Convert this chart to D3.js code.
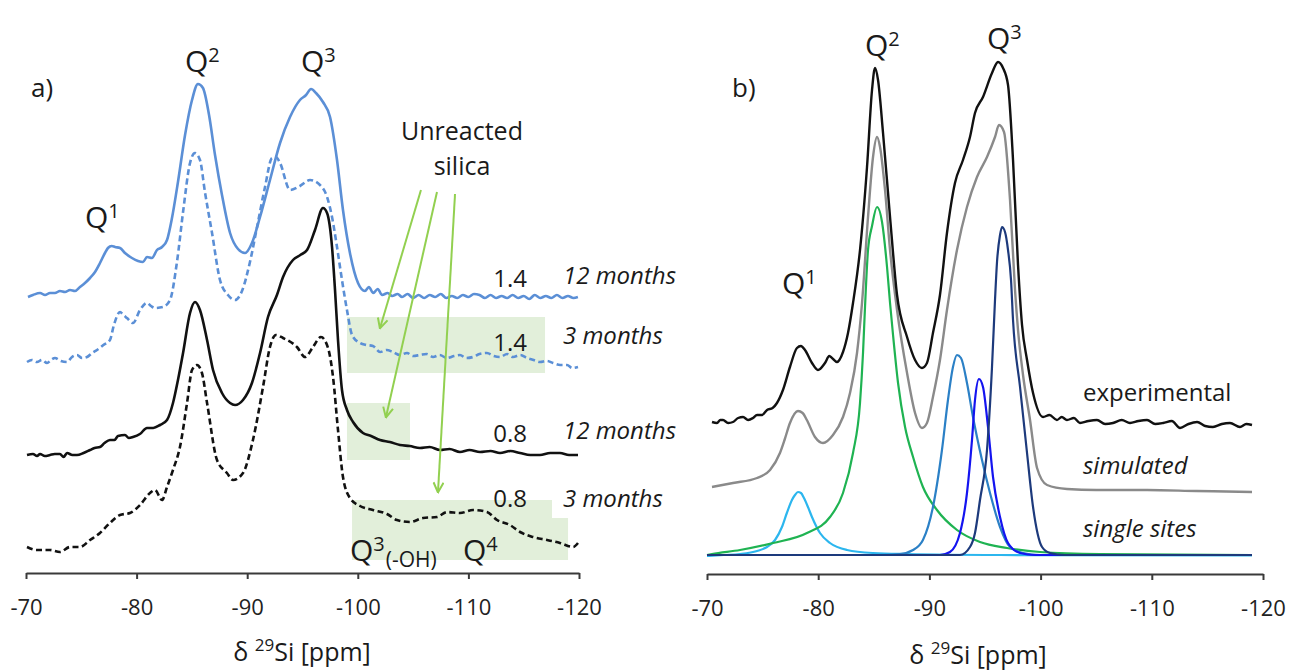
<!DOCTYPE html>
<html><head><meta charset="utf-8">
<script src="https://cdn.jsdelivr.net/npm/d3@7"></script>
<style>
html,body{margin:0;padding:0;background:#fff;}
svg{display:block;font-family:"Open Sans","Noto Sans",sans-serif;}
</style></head><body>
<svg id="chart" width="1293" height="672"></svg>
<script>
// ---------- DATA (ppm, intensity a.u.) ----------
const tickValues = [-70, -80, -90, -100, -110, -120];

// Panel a) ratio 1.4, 12 months (blue solid)
const a_14_12m = [[-70.18,55.2],[-70.63,55.6],[-71.27,56.0],[-71.72,55.6],[-72.17,56.0],[-72.62,56.0],[-73.07,56.4],[-73.53,56.2],[-73.98,56.6],[-74.43,56.4],[-74.88,57.2],[-75.33,58.0],[-75.79,59.0],[-76.24,60.2],[-76.69,62.0],[-77.14,64.0],[-77.41,65.0],[-77.75,65.4],[-78.05,65.2],[-78.50,65.0],[-78.95,64.0],[-79.58,63.0],[-80.13,62.4],[-80.58,62.2],[-80.94,63.2],[-81.39,63.0],[-81.84,64.6],[-82.30,65.2],[-82.75,66.6],[-83.20,71.0],[-83.74,78.2],[-84.38,87.6],[-85.01,94.6],[-85.55,97.8],[-86.00,97.0],[-86.55,91.6],[-87.09,83.6],[-87.72,75.6],[-88.45,68.0],[-89.17,64.8],[-89.80,64.0],[-90.43,66.0],[-91.16,71.2],[-92.06,78.6],[-92.97,86.0],[-93.87,91.2],[-94.77,94.6],[-95.32,95.6],[-95.77,96.8],[-96.22,96.0],[-96.85,94.2],[-97.49,91.2],[-98.12,82.6],[-98.66,72.6],[-99.29,64.0],[-100.02,58.0],[-100.65,56.4],[-101.0,57.2],[-101.4,56.0],[-101.8,56.8],[-102.2,55.6],[-102.7,56.0],[-103.1,55.4],[-103.6,55.8],[-104.0,55.2],[-104.5,55.8],[-105.0,55.0],[-105.5,55.6],[-106.0,55.0],[-106.5,55.6],[-107.0,55.2],[-107.5,55.8],[-108.0,55.0],[-108.5,55.4],[-109.0,55.0],[-109.5,55.6],[-110.0,55.2],[-110.5,55.8],[-111.0,55.6],[-111.5,55.0],[-112.0,55.6],[-112.5,55.0],[-113.0,55.4],[-113.5,55.0],[-114.0,55.6],[-114.5,55.0],[-115.0,55.4],[-115.5,54.8],[-116.0,55.6],[-116.5,55.0],[-117.0,55.4],[-117.5,55.0],[-118.0,55.6],[-118.5,55.0],[-119.0,55.4],[-119.5,55.0],[-119.9,55.2]];

// Panel a) ratio 1.4, 3 months (blue dashed)
const a_14_3m = [[-70.09,42.2],[-70.54,42.6],[-70.99,42.2],[-71.45,42.6],[-71.90,42.0],[-72.26,42.6],[-72.62,43.0],[-73.16,42.4],[-73.71,42.2],[-74.16,43.2],[-74.61,43.6],[-75.06,43.0],[-75.52,43.2],[-75.97,44.0],[-76.42,44.6],[-77.0,45.6],[-77.59,46.6],[-77.95,49.6],[-78.50,52.2],[-78.80,51.6],[-79.13,51.0],[-79.67,50.0],[-80.31,52.6],[-80.94,54.0],[-81.30,53.4],[-81.66,53.0],[-82.39,53.2],[-83.02,54.6],[-83.65,62.2],[-84.20,72.2],[-84.83,82.0],[-85.28,84.0],[-85.73,82.6],[-86.18,76.2],[-86.82,68.0],[-87.54,58.6],[-88.26,55.6],[-88.90,54.6],[-89.53,56.4],[-90.25,62.2],[-90.89,69.2],[-91.61,77.2],[-92.24,83.0],[-92.60,83.2],[-92.97,82.0],[-93.87,76.6],[-94.77,77.4],[-95.68,78.6],[-96.58,77.6],[-97.22,75.2],[-97.67,71.2],[-98.12,65.2],[-98.57,58.6],[-99.02,52.6],[-99.48,47.6],[-100.20,46.0],[-100.8,45.6],[-101.37,45.4],[-102.01,44.2],[-102.6,44.6],[-103.18,44.2],[-103.8,43.6],[-104.45,44.0],[-105.0,43.4],[-105.62,43.6],[-106.2,43.8],[-106.80,43.2],[-107.4,43.6],[-108.07,43.0],[-108.7,43.4],[-109.24,43.6],[-109.8,43.0],[-110.42,43.2],[-111.0,43.8],[-111.68,44.0],[-112.3,43.4],[-112.86,43.2],[-113.5,43.8],[-114.03,43.2],[-114.7,43.6],[-115.30,43.0],[-115.9,42.6],[-116.47,42.2],[-117.1,42.4],[-117.65,42.0],[-118.3,41.6],[-118.92,41.6],[-119.4,41.0],[-119.91,41.2]];

// Panel a) ratio 0.8, 12 months (black solid)
const a_08_12m = [[-70.09,23.6],[-70.63,23.8],[-71.0,23.4],[-71.27,23.8],[-71.7,23.4],[-72.17,23.6],[-72.6,23.8],[-73.07,23.8],[-73.4,23.2],[-73.71,24.0],[-74.2,23.6],[-74.61,23.6],[-75.2,24.0],[-75.79,24.6],[-76.2,25.0],[-76.69,25.2],[-77.1,26.0],[-77.59,26.6],[-78.0,26.6],[-78.32,27.4],[-78.95,27.6],[-79.3,27.0],[-79.67,27.2],[-80.3,27.8],[-80.94,29.0],[-81.5,29.0],[-82.12,29.6],[-82.75,30.6],[-83.29,34.0],[-83.74,38.6],[-84.20,44.0],[-84.83,52.0],[-85.28,54.2],[-85.73,52.6],[-86.37,46.6],[-86.91,40.6],[-87.72,36.0],[-88.45,34.0],[-88.90,33.6],[-89.62,34.6],[-90.43,38.0],[-91.16,44.0],[-91.88,51.2],[-92.69,55.6],[-93.24,59.2],[-94.14,62.6],[-94.8,63.6],[-95.41,64.6],[-96.13,68.6],[-96.85,73.0],[-97.22,72.0],[-97.67,65.2],[-97.94,56.6],[-98.21,46.6],[-98.57,36.6],[-99.02,32.6],[-99.57,30.2],[-100.47,28.0],[-101.2,27.4],[-102.01,26.6],[-102.9,26.2],[-103.82,25.6],[-104.7,25.4],[-105.62,25.0],[-106.5,25.2],[-107.43,24.6],[-108.3,24.8],[-109.24,24.2],[-110.1,24.6],[-111.05,24.2],[-112.0,24.4],[-112.86,24.0],[-113.8,24.4],[-114.67,24.0],[-115.6,23.6],[-116.47,23.6],[-117.4,24.0],[-118.28,24.0],[-119.1,23.6],[-119.91,23.6]];

// Panel a) ratio 0.8, 3 months (black dashed)
const a_08_3m = [[-70.09,5.2],[-70.99,4.6],[-72.17,4.6],[-73.07,4.2],[-73.98,5.2],[-74.88,5.2],[-75.79,6.6],[-76.69,8.0],[-77.59,10.0],[-78.50,11.6],[-79.40,12.0],[-80.31,13.6],[-81.21,16.0],[-81.66,16.6],[-82.30,14.6],[-82.75,17.2],[-83.29,20.6],[-83.92,25.2],[-84.56,34.0],[-85.01,40.6],[-85.46,41.6],[-85.91,40.0],[-86.37,34.0],[-87.27,22.6],[-88.17,20.0],[-88.72,18.6],[-89.62,20.0],[-90.52,26.6],[-91.43,37.2],[-92.06,45.2],[-92.60,47.6],[-93.24,47.0],[-94.50,45.2],[-95.23,43.2],[-95.95,45.2],[-96.67,47.2],[-97.31,45.0],[-97.76,39.2],[-98.21,28.6],[-98.66,19.2],[-99.29,15.0],[-100.20,13.4],[-101.37,12.6],[-102.64,11.8],[-103.54,10.6],[-104.72,10.2],[-105.90,11.0],[-107.16,11.2],[-108.07,12.2],[-109.24,12.0],[-110.42,12.6],[-111.68,12.2],[-112.59,10.6],[-113.76,9.6],[-114.67,8.2],[-115.84,7.2],[-117.11,6.6],[-118.28,6.0],[-119.46,5.2],[-119.91,6.0]];

// Panel b) experimental (black)
const b_exp = [[-70.45,30.4],[-70.90,30.2],[-71.2,30.8],[-71.44,30.8],[-71.9,30.2],[-72.34,30.4],[-72.8,31.2],[-73.24,31.4],[-73.7,30.8],[-74.14,31.2],[-74.5,31.8],[-74.95,31.8],[-75.40,32.8],[-75.9,33.2],[-76.29,34.2],[-76.83,36.8],[-77.46,41.4],[-78.09,45.2],[-78.45,45.6],[-78.81,44.8],[-79.44,42.2],[-79.98,40.8],[-80.61,42.2],[-81.0,43.6],[-81.24,43.2],[-81.69,42.4],[-82.23,44.4],[-82.68,48.2],[-83.13,54.2],[-83.76,64.8],[-84.39,81.4],[-84.84,96.8],[-85.11,101.2],[-85.38,98.8],[-85.83,88.2],[-86.46,71.4],[-87.09,55.8],[-87.99,47.4],[-88.71,42.8],[-89.33,41.2],[-89.78,42.2],[-90.32,48.2],[-90.95,55.8],[-91.58,68.2],[-92.30,78.2],[-93.02,82.8],[-93.65,87.4],[-94.10,92.2],[-94.82,95.4],[-95.63,100.2],[-96.17,102.4],[-96.62,101.2],[-97.07,97.8],[-97.52,82.8],[-97.97,61.8],[-98.33,49.8],[-98.78,42.8],[-99.32,36.2],[-100.22,31.4],[-100.8,31.8],[-101.47,30.8],[-101.9,31.4],[-102.37,30.8],[-103.0,31.2],[-103.54,30.2],[-104.3,30.6],[-105.07,30.8],[-105.8,30.0],[-106.51,30.2],[-107.3,30.8],[-108.04,30.2],[-108.8,30.6],[-109.57,30.8],[-110.3,30.0],[-111.02,30.2],[-111.8,30.6],[-112.54,29.2],[-113.3,30.0],[-114.07,30.4],[-114.8,29.6],[-115.50,29.4],[-116.3,30.0],[-117.03,30.2],[-117.93,29.4],[-118.5,30.0],[-119.01,29.8]];

// Panel b) simulated (grey)
const b_sim = [[-70.45,17.4],[-72.34,18.2],[-74.50,19.2],[-75.67,20.8],[-76.56,24.2],[-77.0,27.0],[-77.46,30.2],[-78.18,32.6],[-78.6,32.2],[-78.98,30.8],[-79.71,27.4],[-80.43,26.2],[-81.33,27.8],[-82.23,31.4],[-82.86,36.2],[-83.49,44.2],[-83.94,54.2],[-84.48,71.4],[-84.93,83.4],[-85.29,87.4],[-85.56,85.4],[-86.01,76.8],[-86.46,64.8],[-87.09,52.8],[-87.99,40.2],[-88.71,32.2],[-89.33,29.2],[-89.78,30.2],[-90.32,35.4],[-90.95,42.8],[-91.58,52.8],[-92.48,64.8],[-93.38,73.4],[-94.28,79.4],[-95.18,83.4],[-95.90,87.4],[-96.26,89.8],[-96.71,88.4],[-97.25,74.8],[-97.70,56.8],[-97.97,48.8],[-98.42,39.8],[-99.05,30.8],[-99.68,21.2],[-100.58,17.8],[-102.37,17.0],[-105.0,16.8],[-109.57,16.8],[-114.0,16.6],[-119.01,16.4]];

// Panel b) single sites
const b_Q1 = [[-70.0,3.6],[-71.5,3.8],[-72.97,4.0],[-74.50,4.6],[-75.40,5.4],[-76.12,6.8],[-76.74,9.4],[-77.18,12.2],[-77.64,14.8],[-77.91,15.8],[-78.18,16.4],[-78.45,16.2],[-78.72,15.2],[-79.08,13.4],[-79.44,11.4],[-80.16,8.2],[-81.06,6.2],[-82.59,4.8],[-84.93,4.2],[-87.99,4.0],[-96.35,3.8],[-119.01,3.7]];
const b_Q2 = [[-70.0,3.8],[-70.45,4.0],[-72.97,4.8],[-75.94,6.2],[-78.99,8.2],[-81.06,11.4],[-82.23,16.2],[-83.13,24.2],[-83.76,34.2],[-84.03,44.2],[-84.21,53.4],[-84.48,64.8],[-84.84,69.6],[-85.29,73.4],[-85.74,70.4],[-86.19,61.4],[-86.46,54.2],[-86.73,47.8],[-87.18,38.2],[-87.81,29.4],[-88.53,23.4],[-89.42,17.4],[-90.68,12.8],[-92.48,8.8],[-94.55,6.4],[-96.98,5.2],[-99.95,4.4],[-105.34,4.0],[-119.01,3.8]];
const b_Q3a = [[-70.0,3.8],[-85.56,3.8],[-87.36,4.0],[-88.53,4.8],[-89.42,6.8],[-90.32,13.4],[-91.13,24.8],[-91.67,34.8],[-92.12,41.4],[-92.48,43.8],[-92.84,43.2],[-93.38,38.2],[-93.92,31.4],[-94.73,22.8],[-95.45,16.2],[-96.35,9.4],[-97.25,5.4],[-98.42,4.2],[-99.95,3.8],[-119.01,3.8]];
const b_Q3b = [[-70.0,3.8],[-90.95,3.8],[-91.85,4.4],[-92.75,8.2],[-93.38,16.2],[-93.83,26.8],[-94.10,34.8],[-94.46,39.0],[-94.82,37.4],[-95.27,29.4],[-95.72,19.4],[-96.35,11.4],[-97.07,6.2],[-98.15,4.2],[-99.50,3.8],[-119.01,3.8]];
const b_Q3c = [[-70.0,3.8],[-92.75,3.8],[-93.65,5.4],[-94.10,8.2],[-94.55,14.8],[-95.18,24.8],[-95.63,41.4],[-95.90,54.8],[-96.08,62.4],[-96.35,67.8],[-96.53,69.4],[-96.80,68.4],[-97.07,64.8],[-97.34,58.8],[-97.52,50.8],[-98.15,37.4],[-98.78,24.2],[-99.32,13.4],[-100.13,5.4],[-100.85,4.2],[-102.19,3.8],[-119.01,3.8]];

// ---------- DRAW ----------
const svg = d3.select("#chart");
const FONT = '"Open Sans","Noto Sans",sans-serif';

const xA = d3.scaleLinear().domain([-70, -120]).range([26, 579]);
const yA = d3.scaleLinear().domain([0, 100]).range([573, 73]);
const xB = d3.scaleLinear().domain([-70, -120]).range([707, 1263]);
const yB = d3.scaleLinear().domain([0, 100]).range([574, 74]);

const defs = svg.append("defs");
defs.append("marker").attr("id", "arrowG")
  .attr("viewBox", "0 0 12 12").attr("refX", 10.5).attr("refY", 6)
  .attr("markerWidth", 12).attr("markerHeight", 12)
  .attr("markerUnits", "userSpaceOnUse").attr("orient", "auto")
  .append("path").attr("d", "M1,1 L11,6 L1,11")
  .attr("fill", "none").attr("stroke", "#92d050").attr("stroke-width", 2);

// ---- panel a: green highlight boxes ----
const gA = svg.append("g");
const boxFill = "#e2efda";
gA.append("rect").attr("x", xA(-99.02)).attr("y", yA(51.2))
  .attr("width", xA(-116.93) - xA(-99.02)).attr("height", yA(40.0) - yA(51.2)).attr("fill", boxFill);
gA.append("rect").attr("x", xA(-99.02)).attr("y", yA(34.0))
  .attr("width", xA(-104.72) - xA(-99.02)).attr("height", yA(22.6) - yA(34.0)).attr("fill", boxFill);
const box3 = [[-99.48,14.6],[-117.56,14.6],[-117.56,11.0],[-119.01,11.0],[-119.01,2.6],[-99.48,2.6]];
gA.append("path").attr("d", d3.line().x(d => xA(d[0])).y(d => yA(d[1]))(box3) + "Z").attr("fill", boxFill);

// ---- axes ----
function drawAxis(x, y0) {
  const ax = d3.axisBottom(x).tickValues(tickValues).tickSize(6).tickSizeOuter(0)
    .tickPadding(20).tickFormat(d => String(d));
  const g = svg.append("g").attr("transform", `translate(0,${y0})`).call(ax);
  g.select(".domain").attr("stroke", "#3a3a3a").attr("stroke-width", 2);
  g.selectAll(".tick line").attr("stroke", "#3a3a3a").attr("stroke-width", 2);
  g.selectAll(".tick text").attr("font-family", FONT).attr("font-size", 22).attr("fill", "#222");
  return g;
}
drawAxis(xA, 573);
drawAxis(xB, 574);

// ---- panel a curves ----
const lineA = d3.line().x(d => xA(d[0])).y(d => yA(d[1])).curve(d3.curveMonotoneX);
const blue = "#5b8fd6";
svg.append("path").datum(a_14_12m).attr("d", lineA).attr("fill", "none")
  .attr("stroke", blue).attr("stroke-width", 2.6).attr("stroke-linejoin", "round");
svg.append("path").datum(a_14_3m).attr("d", lineA).attr("fill", "none")
  .attr("stroke", blue).attr("stroke-width", 2.6).attr("stroke-dasharray", "6,3.5");
svg.append("path").datum(a_08_12m).attr("d", lineA).attr("fill", "none")
  .attr("stroke", "#111").attr("stroke-width", 2.6).attr("stroke-linejoin", "round");
svg.append("path").datum(a_08_3m).attr("d", lineA).attr("fill", "none")
  .attr("stroke", "#111").attr("stroke-width", 2.6).attr("stroke-dasharray", "6,3.5");

// ---- panel a arrows ----
const arrows = [
  [[-105.71, 76.6], [-102.01, 49.0]],
  [[-107.16, 76.2], [-102.55, 31.2]],
  [[-108.79, 75.8], [-107.25, 16.2]]
];
arrows.forEach(a => {
  svg.append("line").attr("x1", xA(a[0][0])).attr("y1", yA(a[0][1]))
    .attr("x2", xA(a[1][0])).attr("y2", yA(a[1][1]))
    .attr("stroke", "#92d050").attr("stroke-width", 2).attr("marker-end", "url(#arrowG)");
});

// ---- panel b curves ----
const lineB = d3.line().x(d => xB(d[0])).y(d => yB(d[1])).curve(d3.curveMonotoneX);
const siteSeries = [
  [b_Q1, "#2cb6ee"], [b_Q2, "#1fb352"], [b_Q3a, "#2b80c6"], [b_Q3b, "#1414f0"], [b_Q3c, "#1d3a7c"]
];
siteSeries.forEach(s => {
  svg.append("path").datum(s[0]).attr("d", lineB).attr("fill", "none")
    .attr("stroke", s[1]).attr("stroke-width", 2.2);
});
svg.append("path").datum(b_sim).attr("d", lineB).attr("fill", "none")
  .attr("stroke", "#8a8a8a").attr("stroke-width", 2.4);
svg.append("path").datum(b_exp).attr("d", lineB).attr("fill", "none")
  .attr("stroke", "#111").attr("stroke-width", 2.4).attr("stroke-linejoin", "round");

// ---- text ----
function txt(x, y, s, size, opts = {}) {
  return svg.append("text").attr("x", x).attr("y", y).text(s)
    .attr("font-family", FONT).attr("font-size", size).attr("fill", "#1a1a1a")
    .attr("font-style", opts.italic ? "italic" : "normal")
    .attr("text-anchor", opts.anchor || "start");
}
function qLabel(x, yBase, sup, sub) {
  const t = svg.append("text").attr("x", x).attr("y", yBase)
    .attr("font-family", FONT).attr("font-size", 30).attr("fill", "#1a1a1a");
  t.append("tspan").text("Q");
  t.append("tspan").text(sup).attr("font-size", 20).attr("dy", -10);
  if (sub) t.append("tspan").text(sub).attr("font-size", 21).attr("dy", 16).attr("dx", 1);
  return t;
}

txt(31, 97, "a)", 26);
txt(732, 97, "b)", 26);

qLabel(185, 72, "2");
qLabel(301, 72, "3");
qLabel(85, 228, "1");
qLabel(350, 561, "3", "(-OH)");
qLabel(463, 561, "4");

qLabel(865, 56, "2");
qLabel(987, 49, "3");
qLabel(782, 294, "1");

txt(462, 140, "Unreacted", 25, {anchor: "middle"});
txt(462, 175, "silica", 25, {anchor: "middle"});

txt(527, 287, "1.4", 24, {anchor: "end"});
txt(563, 284, "12 months", 24, {italic: true});
txt(527, 351, "1.4", 24, {anchor: "end"});
txt(563, 344, "3 months", 24, {italic: true});
txt(527, 442, "0.8", 24, {anchor: "end"});
txt(563, 439, "12 months", 24, {italic: true});
txt(527, 507, "0.8", 24, {anchor: "end"});
txt(563, 507, "3 months", 24, {italic: true});

txt(1083, 401, "experimental", 24);
txt(1083, 474, "simulated", 24, {italic: true});
txt(1083, 537, "single sites", 24, {italic: true});

function axisTitle(cx, yBase) {
  const t = svg.append("text").attr("x", cx).attr("y", yBase).attr("text-anchor", "middle")
    .attr("font-family", FONT).attr("font-size", 25).attr("fill", "#1a1a1a");
  t.append("tspan").text("δ ");
  t.append("tspan").text("29").attr("font-size", 17).attr("dy", -10);
  t.append("tspan").text("Si [ppm]").attr("dy", 10);
}
axisTitle(302, 661);
axisTitle(978, 664);
</script>
</body></html>
